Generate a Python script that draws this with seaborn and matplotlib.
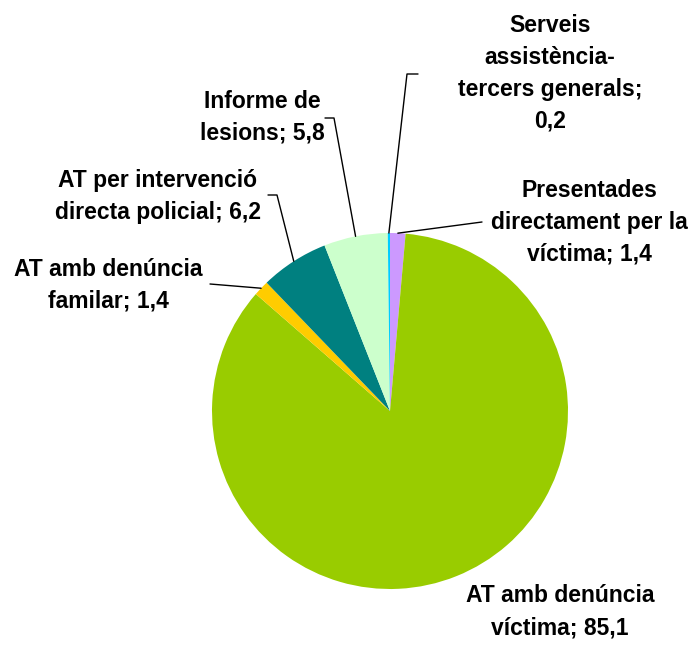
import numpy as np
import matplotlib
matplotlib.use("Agg")
import matplotlib.pyplot as plt
import seaborn as sns

# Data
categories = [
    "Presentades\ndirectament per la\nvíctima",
    "AT amb denúncia\nvíctima",
    "AT amb denúncia\nfamilar",
    "AT per intervenció\ndirecta policial",
    "Informe de\nlesions",
    "Serveis\nassistència-\ntercers generals",
]
values = [1.4, 85.1, 1.4, 6.2, 5.8, 0.2]
colors = ["#cc99ff", "#99cc00", "#ffcc00", "#008080", "#ccffcc", "#00ccff"]

# label centres (pixels) and leader-line elbows (pixels, None = no line)
label_pos = [(589, 222), (560, 612), (108, 285), (158, 196), (262, 117), (550, 73)]
value_sep = ["; ", "; ", "; ", "; ", "; ", ";\n"]
elbows = [[(482, 222)], None, [(210, 284)], [(277, 195), (268, 195)],
          [(334, 118), (325, 118)], [(407, 74), (418, 74)]]

sns.set_theme(style="white")
plt.rcParams['font.family'] = ['Liberation Sans', 'DejaVu Sans']

W, H = 694, 645
cx, cy, r = 390, 411, 178
fig = plt.figure(figsize=(W / 100, H / 100), dpi=100)
fig.patch.set_facecolor("white")
ax = fig.add_axes([(cx - r) / W, (H - cy - r) / H, 2 * r / W, 2 * r / H])

def px(x, y):
    return ((x - cx) / r, (cy - y) / r)

wedges, _ = ax.pie(values, colors=colors, startangle=90, counterclock=False,
                   radius=1.0, wedgeprops=dict(linewidth=0))
ax.set_xlim(-1, 1)
ax.set_ylim(-1, 1)
ax.set_aspect("equal")
ax.axis("off")

for w, cat, val, sep, lp, el in zip(wedges, categories, values, value_sep, label_pos, elbows):
    text = f"{cat}{sep}{str(val).replace('.', ',')}"
    tx, ty = px(*lp)
    ax.text(tx, ty, text, ha="center", va="center", fontsize=16.5,
            fontweight="bold", linespacing=1.5, color="black", clip_on=False)
    if el is not None:
        ang = np.deg2rad((w.theta1 + w.theta2) / 2)
        pts = [(np.cos(ang), np.sin(ang))] + [px(*p) for p in el]
        xs, ys = zip(*pts)
        ax.plot(xs, ys, color="black", lw=1, clip_on=False)

fig.savefig("out.png", dpi=100, facecolor="white")
